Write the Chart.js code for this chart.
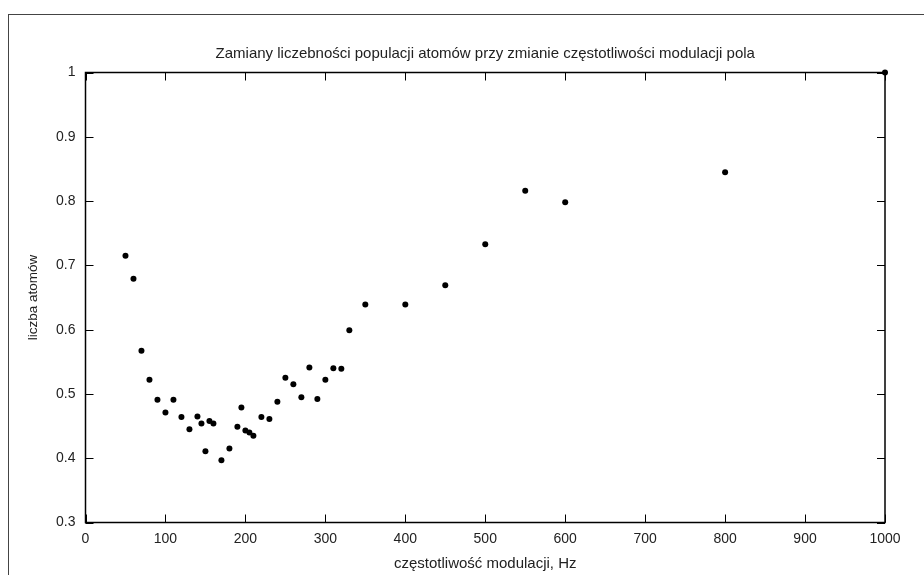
<!DOCTYPE html>
<html>
<head>
<meta charset="utf-8">
<script src="https://cdn.jsdelivr.net/npm/chart.js@4.4.0/dist/chart.umd.min.js"></script>
<style>
  html, body { margin: 0; padding: 0; background: #fff; overflow: hidden; }
  #wrap { position: relative; width: 924px; height: 575px; }
  #frame { position: absolute; left: 8px; top: 14px; width: 1000px; height: 1000px;
           border-top: 1px solid #444; border-left: 1px solid #444; }
  #chart { position: absolute; left: 0; top: 0; }
</style>
</head>
<body>
<div id="wrap">
  <div id="frame"></div>
  <canvas id="chart" width="924" height="575"></canvas>
</div>
<script>
// frequency of modulation (Hz) and relative atom count
const freq = [50, 60, 70, 80, 90, 100, 110, 120, 130, 140,
              145, 150, 155, 160, 170, 180, 190, 195, 200, 205,
              210, 220, 230, 240, 250, 260, 270, 280, 290, 300,
              310, 320, 330, 350, 400, 450, 500, 550, 600, 800,
              1000];
const atoms = [0.715, 0.679, 0.567, 0.522, 0.491, 0.471, 0.491, 0.464, 0.445, 0.465,
               0.454, 0.411, 0.458, 0.454, 0.397, 0.415, 0.449, 0.479, 0.443, 0.440,
               0.435, 0.464, 0.461, 0.488, 0.525, 0.515, 0.495, 0.541, 0.492, 0.522,
               0.540, 0.539, 0.599, 0.639, 0.639, 0.669, 0.733, 0.816, 0.798, 0.845,
               1.0];

const xTicks = [0, 100, 200, 300, 400, 500, 600, 700, 800, 900, 1000];
const xTickLabels = ['0', '100', '200', '300', '400', '500', '600', '700', '800', '900', '1000'];
const yTicks = [0.3, 0.4, 0.5, 0.6, 0.7, 0.8, 0.9, 1];
const yTickLabels = ['0.3', '0.4', '0.5', '0.6', '0.7', '0.8', '0.9', '1'];

const family = "'Liberation Sans', Arial, sans-serif";
const font = { family, size: 14, weight: 'normal' };
const bigFont = { family, size: 15, weight: 'normal' };
const ink = '#222';

// gnuplot-like frame with ticks pointing inwards, mirrored on all sides
const frameTicks = {
  id: 'frameTicks',
  beforeDatasetsDraw(chart) {
    const { ctx, chartArea: a, scales: { x, y } } = chart;
    const len = 8;
    ctx.save();
    ctx.strokeStyle = '#000';
    ctx.lineWidth = 1;
    ctx.beginPath();
    xTicks.forEach(v => {
      const px = Math.round(x.getPixelForValue(v)) + 0.5;
      ctx.moveTo(px, a.bottom); ctx.lineTo(px, a.bottom - len);
      ctx.moveTo(px, a.top); ctx.lineTo(px, a.top + len);
    });
    yTicks.forEach(v => {
      const py = Math.round(y.getPixelForValue(v)) + 0.5;
      ctx.moveTo(a.left, py); ctx.lineTo(a.left + len, py);
      ctx.moveTo(a.right, py); ctx.lineTo(a.right - len, py);
    });
    ctx.stroke();
    ctx.lineWidth = 1.5;
    ctx.strokeRect(a.left, a.top, a.right - a.left, a.bottom - a.top);
    ctx.restore();
  }
};

const ctx = document.getElementById('chart').getContext('2d');
const chart = new Chart(ctx, {
  type: 'scatter',
  data: {
    datasets: [{
      data: freq.map((f, i) => ({ x: f, y: atoms[i] })),
      backgroundColor: '#000',
      borderWidth: 0,
      pointRadius: 3,
      pointHoverRadius: 3,
      clip: false
    }]
  },
  options: {
    responsive: false,
    animation: false,
    layout: { padding: { left: 0, right: 39, top: 0, bottom: 0 } },
    scales: {
      x: {
        type: 'linear',
        min: 0, max: 1000,
        afterBuildTicks: s => { s.ticks = xTicks.map(v => ({ value: v })); },
        afterFit: s => { s.height = 52.5; },
        grid: { display: false, drawTicks: false },
        border: { display: false },
        ticks: { font, color: ink, padding: 8, maxRotation: 0, autoSkip: false,
                 callback: v => xTickLabels[xTicks.indexOf(v)] },
        title: { display: true, text: 'częstotliwość modulacji, Hz', font: bigFont, color: ink,
                 padding: { top: 4, bottom: 2.5 } }
      },
      y: {
        type: 'linear',
        min: 0.3, max: 1,
        afterBuildTicks: s => { s.ticks = yTicks.map(v => ({ value: v })); },
        afterFit: s => { s.width = 85.5; },
        grid: { display: false, drawTicks: false },
        border: { display: false },
        ticks: { font, color: ink, padding: 10, autoSkip: false,
                 callback: v => yTickLabels[yTicks.indexOf(v)] },
        title: { display: true, text: 'liczba atomów', font: { family, size: 13.5 }, color: ink,
                 padding: { top: 25.5, bottom: 4 } }
      }
    },
    plugins: {
      legend: { display: false },
      tooltip: { enabled: false },
      title: {
        display: true,
        fullSize: false,
        text: 'Zamiany liczebności populacji atomów przy zmianie częstotliwości modulacji pola',
        font: bigFont, color: ink,
        padding: { top: 45, bottom: 9.5 }
      }
    }
  },
  plugins: [frameTicks]
});
</script>
</body>
</html>
